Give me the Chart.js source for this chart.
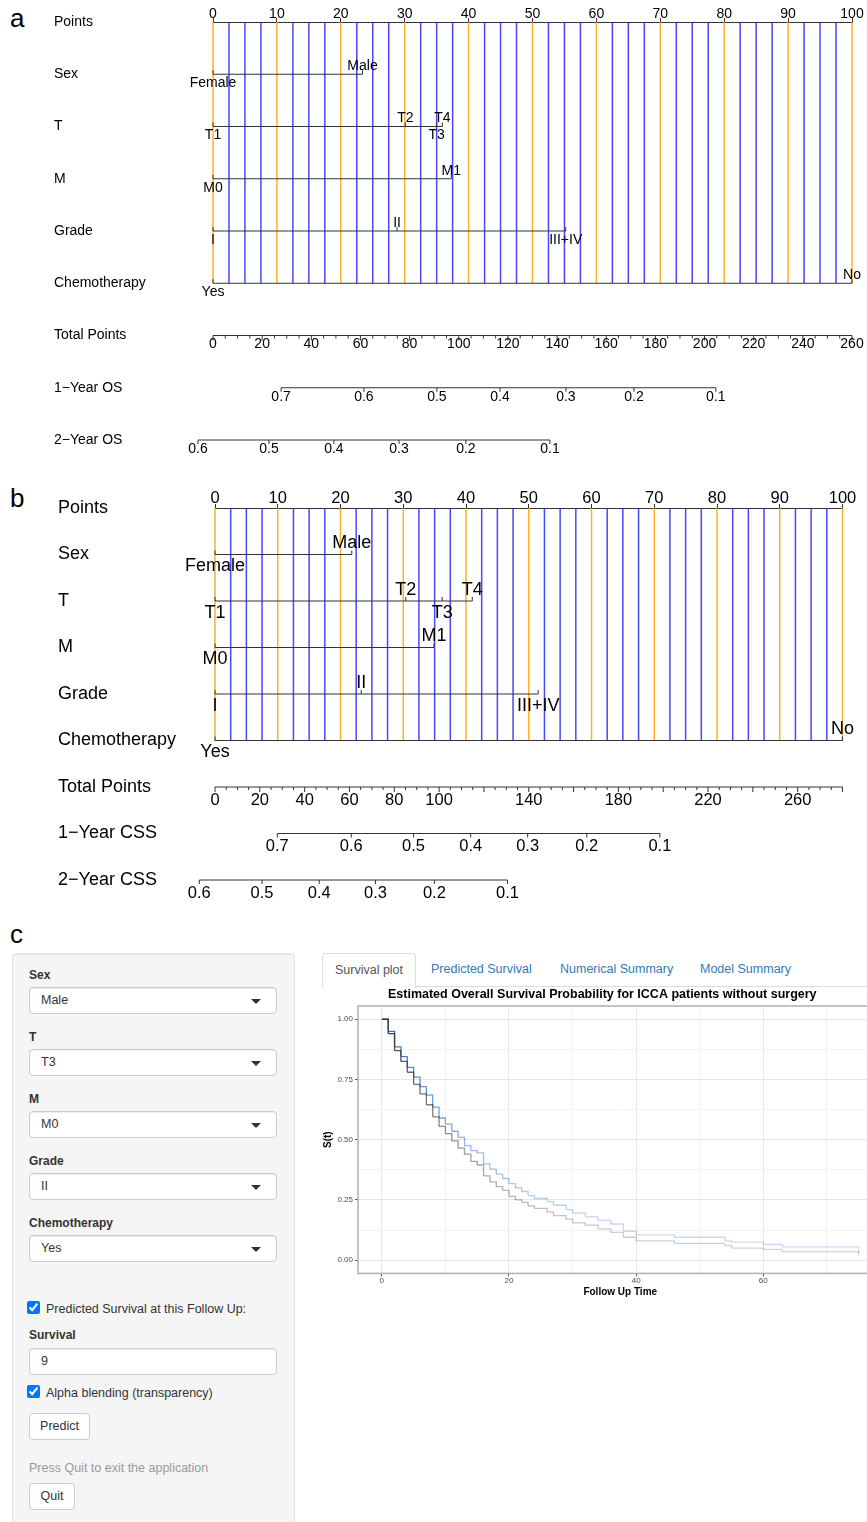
<!DOCTYPE html>
<html>
<head>
<meta charset="utf-8">
<script src="https://cdn.jsdelivr.net/npm/chart.js@4.4.1/dist/chart.umd.min.js"></script>
<style>
  html, body { margin: 0; padding: 0; width: 867px; height: 1522px; overflow: hidden; background: #fff; }
  body { position: relative; font-family: Arial, "Liberation Sans", Helvetica, sans-serif; color: #333; }
  canvas { position: absolute; }
  .tag { position: absolute; font-size: 26px; color: #000; line-height: 26px; }
  .well { position: absolute; left: 12px; top: 953px; width: 281px; height: 600px; background: #f5f5f5;
          border: 1px solid #e3e3e3; border-radius: 4px; box-shadow: inset 0 1px 1px rgba(0,0,0,.05); }
  .lab { position: absolute; left: 29px; font-size: 12px; font-weight: bold; color: #333; line-height: 14px; }
  .sel { position: absolute; left: 29px; width: 246px; height: 25px; background: #fff; border: 1px solid #ccc;
         border-radius: 4px; box-shadow: inset 0 1px 1px rgba(0,0,0,.075); font-size: 12.5px; line-height: 25px;
         padding-left: 11px; box-sizing: content-box; width: 235px; color: #333; }
  .sel.dd::after { content: ""; position: absolute; right: 15px; top: 11px; width: 0; height: 0;
         border-left: 5px solid transparent; border-right: 5px solid transparent; border-top: 5px solid #333; }
  .chk { position: absolute; left: 29px; font-size: 12.5px; color: #333; line-height: 14px; }
  .chk input { position: absolute; left: -2px; top: -1px; margin: 0; width: 13px; height: 13px; }
  .chk span { position: absolute; left: 17px; top: 0; white-space: nowrap; }
  .btn { position: absolute; left: 29px; height: 25px; background: #fff; border: 1px solid #ccc; border-radius: 4px;
         font-size: 12.5px; line-height: 25px; text-align: center; color: #333; }
  .note { position: absolute; left: 29px; top: 1461px; font-size: 12.5px; color: #999; }
  .tabs { position: absolute; left: 322px; top: 953px; width: 545px; height: 33px; border-bottom: 1px solid #ddd; }
  .tab { position: absolute; top: 0; height: 33px; line-height: 33px; font-size: 12.5px; color: #337ab7; white-space: nowrap; }
  .tab.on { left: 0; width: 92px; border: 1px solid #ddd; border-bottom-color: #fff; border-radius: 4px 4px 0 0;
            background: #fff; color: #555; text-align: center; height: 33px; }
</style>
</head>
<body>

<div class="tag" style="left:10px; top:5px;">a</div>
<canvas id="nomoA" width="867" height="462" style="left:0; top:0;"></canvas>

<div class="tag" style="left:10px; top:485px;">b</div>
<canvas id="nomoB" width="867" height="435" style="left:0; top:470px;"></canvas>

<div class="tag" style="left:10px; top:921px;">c</div>

<div class="well"></div>
<div class="lab" style="top:968px;">Sex</div>
<div class="sel dd" style="top:987px;">Male</div>
<div class="lab" style="top:1030px;">T</div>
<div class="sel dd" style="top:1049px;">T3</div>
<div class="lab" style="top:1092px;">M</div>
<div class="sel dd" style="top:1111px;">M0</div>
<div class="lab" style="top:1154px;">Grade</div>
<div class="sel dd" style="top:1173px;">II</div>
<div class="lab" style="top:1216px;">Chemotherapy</div>
<div class="sel dd" style="top:1235px;">Yes</div>
<div class="chk" style="top:1302px;"><input type="checkbox" checked><span>Predicted Survival at this Follow Up:</span></div>
<div class="lab" style="top:1328px;">Survival</div>
<div class="sel" style="top:1348px;">9</div>
<div class="chk" style="top:1386px;"><input type="checkbox" checked><span>Alpha blending (transparency)</span></div>
<div class="btn" style="top:1413px; width:59px;">Predict</div>
<div class="note">Press Quit to exit the application</div>
<div class="btn" style="top:1483px; width:44px;">Quit</div>

<div class="tabs">
  <div class="tab on">Survival plot</div>
  <div class="tab" style="left:109px;">Predicted Survival</div>
  <div class="tab" style="left:238px;">Numerical Summary</div>
  <div class="tab" style="left:378px;">Model Summary</div>
</div>

<canvas id="surv" width="622" height="312" style="left:322px; top:986px;"></canvas>

<script>
Chart.defaults.font.family = '"Liberation Sans", Arial, Helvetica, sans-serif';

// ---- nomogram a (overall survival) ----
const rowNamesA = ['Points', 'Sex', 'T', 'M', 'Grade', 'Chemotherapy', 'Total Points', '1\u2212Year OS', '2\u2212Year OS'];
const sexLabels = ['Female', 'Male'];
const tLabels = ['T1', 'T2', 'T3', 'T4'];
const mLabels = ['M0', 'M1'];
const gradeLabels = ['I', 'II', 'III+IV'];
const chemoLabels = ['Yes', 'No'];

const sexPtsA = [0, 23.4];
const tPtsA = [0, 30.1, 35.0, 35.9];
const mPtsA = [0, 37.3];
const gradePtsA = [0, 28.8, 55.2];
const chemoPtsA = [0, 100];

const totalTicksA = [0, 20, 40, 60, 80, 100, 120, 140, 160, 180, 200, 220, 240, 260];
const os1LabelsA = ['0.7', '0.6', '0.5', '0.4', '0.3', '0.2', '0.1'];
const os1PosA = [27.7, 61.4, 91.1, 116.8, 143.6, 171.3, 204.6];
const os2LabelsA = ['0.6', '0.5', '0.4', '0.3', '0.2', '0.1'];
const os2PosA = [-6.1, 22.8, 49.2, 75.7, 102.9, 137.1];

// ---- nomogram b (cancer specific survival) ----
const rowNamesB = ['Points', 'Sex', 'T', 'M', 'Grade', 'Chemotherapy', 'Total Points', '1\u2212Year CSS', '2\u2212Year CSS'];
const sexPtsB = [0, 21.8];
const tPtsB = [0, 30.4, 36.2, 41.0];
const mPtsB = [0, 34.9];
const gradePtsB = [0, 23.3, 51.5];
const chemoPtsB = [0, 100];

const totalTicksB = [0, 20, 40, 60, 80, 100, 140, 180, 220, 260];
const css1LabelsB = ['0.7', '0.6', '0.5', '0.4', '0.3', '0.2', '0.1'];
const css1PosB = [27.8, 60.8, 88.6, 114.1, 139.5, 165.9, 198.5];
const css2LabelsB = ['0.6', '0.5', '0.4', '0.3', '0.2', '0.1'];
const css2PosB = [-7.0, 21.0, 46.5, 71.6, 97.9, 130.5];

// ---- survival curves (panel c) ----
const survTime = [0, 1, 2, 3, 4, 5, 6, 7, 8, 9, 10, 11, 12, 13, 14, 15, 16, 17, 18, 19, 20,
                  21, 22, 23, 24, 26, 27, 29, 30, 32, 34, 36, 38, 40, 46, 54, 55, 60, 63, 75];
const survBlue = [1.00, 0.95, 0.885, 0.845, 0.80, 0.76, 0.72, 0.685, 0.635, 0.59, 0.565, 0.535, 0.51, 0.475, 0.455, 0.445, 0.40,
                  0.378, 0.357, 0.339, 0.318, 0.30, 0.285, 0.268, 0.256, 0.243, 0.228, 0.21, 0.195, 0.18, 0.165, 0.15, 0.12,
                  0.105, 0.095, 0.08, 0.075, 0.065, 0.055, 0.03];
const survGray = [1.00, 0.94, 0.87, 0.825, 0.78, 0.73, 0.69, 0.645, 0.595, 0.555, 0.525, 0.495, 0.465, 0.44, 0.41, 0.395, 0.35,
                  0.325, 0.305, 0.29, 0.265, 0.25, 0.24, 0.225, 0.215, 0.20, 0.185, 0.17, 0.155, 0.145, 0.13, 0.115, 0.095,
                  0.08, 0.07, 0.06, 0.05, 0.045, 0.035, 0.02];

const ORANGE = 'rgba(255,165,0,0.85)';
const BLUE = 'rgba(40,40,255,0.85)';
const INK = '#333';

function nomogram(id, o) {
  const vOrange = [], vBlue = [];
  for (let v = 0; v <= 100; v += 2.5) {
    const seg = [{x: v, y: 0}, {x: v, y: 5}, {x: v, y: null}];
    if (v % 10 === 0) vOrange.push(...seg); else vBlue.push(...seg);
  }
  const rowLines = [];
  o.factors.forEach((f, i) => {
    rowLines.push({x: Math.min(...f.pts), y: i + 1}, {x: Math.max(...f.pts), y: i + 1}, {x: 0, y: null});
  });
  const tpLines = [
    {x: 0, y: 6}, {x: o.tpMax, y: 6}, {x: 0, y: null},
    {x: o.s1Pos[0], y: 7}, {x: o.s1Pos[o.s1Pos.length - 1], y: 7}, {x: 0, y: null},
    {x: o.s2Pos[0], y: 8}, {x: o.s2Pos[o.s2Pos.length - 1], y: 8}
  ];
  const fs = o.fontSize;
  const font = (s) => s + 'px "Liberation Sans", Arial, sans-serif';

  const textPlugin = {
    id: 'nomoText',
    afterDatasetsDraw(chart) {
      const c = chart.ctx, x = chart.scales.x, tp = chart.scales.tp, y = chart.scales.y;
      c.save();
      c.strokeStyle = INK;
      c.fillStyle = '#000';
      c.lineWidth = 1;
      c.textAlign = 'center';
      c.textBaseline = 'middle';
      // factor rows
      o.factors.forEach((f, r) => {
        const py = y.getPixelForValue(r + 1);
        c.font = font(o.levelSize);
        f.pts.forEach((p, i) => {
          const px = x.getPixelForValue(p);
          c.beginPath(); c.moveTo(px, py); c.lineTo(px, py - o.tick); c.stroke();
          const ly = i % 2 === 0 ? py + o.below : py - o.above;
          c.fillText(f.labels[i], px, ly);
        });
      });
      // total points
      const ty = y.getPixelForValue(6);
      for (let v = 0; v <= o.tpMax; v += 5) {
        const px = tp.getPixelForValue(v);
        c.beginPath(); c.moveTo(px, ty); c.lineTo(px, ty + (v % 20 === 0 ? o.tick + 1 : o.tick - 1)); c.stroke();
      }
      c.font = font(fs);
      o.tpTicks.forEach(v => c.fillText(String(v), tp.getPixelForValue(v), ty + o.numOff));
      // survival probability rows
      [[o.s1Pos, o.s1Labels, 7], [o.s2Pos, o.s2Labels, 8]].forEach(([pos, labs, r]) => {
        const py = y.getPixelForValue(r);
        pos.forEach((p, i) => {
          const px = tp.getPixelForValue(p);
          c.beginPath(); c.moveTo(px, py); c.lineTo(px, py + o.tick); c.stroke();
          c.fillText(labs[i], px, py + o.numOff);
        });
      });
      c.restore();
    }
  };

  return new Chart(document.getElementById(id), {
    type: 'line',
    data: {
      datasets: [
        {data: rowLines, borderColor: INK, borderWidth: 1, order: 1},
        {data: tpLines, xAxisID: 'tp', borderColor: INK, borderWidth: 1, order: 1},
        {data: vOrange, borderColor: ORANGE, borderWidth: 1.5, order: 2},
        {data: vBlue, borderColor: BLUE, borderWidth: 1.5, order: 3}
      ]
    },
    options: {
      responsive: false,
      animation: false,
      spanGaps: false,
      clip: false,
      elements: {point: {radius: 0}, line: {tension: 0, fill: false}},
      layout: {padding: o.padding},
      plugins: {legend: {display: false}, tooltip: {enabled: false}},
      scales: {
        x: {
          type: 'linear', position: 'top', min: 0, max: 100,
          afterFit: (s) => { s.height = o.topH; },
          ticks: {stepSize: 10, color: '#000', font: {size: fs}, padding: o.topPad, maxRotation: 0, autoSkip: false},
          grid: {drawOnChartArea: false, tickLength: 4, tickColor: INK},
          border: {color: INK, width: 1}
        },
        tp: {type: 'linear', axis: 'x', position: 'bottom', min: 0, max: o.tpMax, display: false},
        y: {
          type: 'linear', min: 0, max: 8, reverse: true,
          afterFit: (s) => { s.width = o.axisW; },
          ticks: {stepSize: 1, autoSkip: false, crossAlign: 'far', color: '#000', font: {size: o.levelSize},
                  callback: (v) => o.rowNames[v]},
          grid: {display: false},
          border: {display: false}
        }
      }
    },
    plugins: [textPlugin]
  });
}

nomogram('nomoA', {
  rowNames: rowNamesA,
  factors: [
    {pts: sexPtsA, labels: sexLabels},
    {pts: tPtsA, labels: tLabels},
    {pts: mPtsA, labels: mLabels},
    {pts: gradePtsA, labels: gradeLabels},
    {pts: chemoPtsA, labels: chemoLabels}
  ],
  tpMax: 260, tpTicks: totalTicksA,
  s1Pos: os1PosA, s1Labels: os1LabelsA, s2Pos: os2PosA, s2Labels: os2LabelsA,
  fontSize: 14, levelSize: 14, tick: 4, above: 8, below: 9, numOff: 9,
  padding: {left: 54, right: 15, top: 0, bottom: 22}, topH: 22, topPad: -5, axisW: 159
});

nomogram('nomoB', {
  rowNames: rowNamesB,
  factors: [
    {pts: sexPtsB, labels: sexLabels},
    {pts: tPtsB, labels: tLabels},
    {pts: mPtsB, labels: mLabels},
    {pts: gradePtsB, labels: gradeLabels},
    {pts: chemoPtsB, labels: chemoLabels}
  ],
  tpMax: 280, tpTicks: totalTicksB,
  s1Pos: css1PosB, s1Labels: css1LabelsB, s2Pos: css2PosB, s2Labels: css2LabelsB,
  fontSize: 16.5, levelSize: 18, tick: 4, above: 11, below: 12, numOff: 13,
  padding: {left: 58, right: 24.5, top: 0, bottom: 25}, topH: 38, topPad: -4, axisW: 157
});

// ---- survival plot ----
function fade(rgb) {
  return (ctx) => {
    const t = ctx.p0.parsed.x;
    const a = 0.22 + 0.78 * Math.exp(-t / 12);
    return 'rgba(' + rgb.join(',') + ',' + a.toFixed(3) + ')';
  };
}

const panelBorder = {
  id: 'panelBorder',
  afterDraw(chart) {
    const a = chart.chartArea, c = chart.ctx;
    c.save();
    c.strokeStyle = '#b0b0b0';
    c.lineWidth = 1.5;
    c.strokeRect(a.left, a.top, a.right - a.left, a.bottom - a.top);
    c.restore();
  }
};

const isMajor = (v, step) => Math.abs(v / step - Math.round(v / step)) < 1e-6;

new Chart(document.getElementById('surv'), {
  type: 'line',
  data: {
    datasets: [
      {data: survTime.map((t, i) => ({x: t, y: survGray[i]})), stepped: 'before', borderWidth: 1.3,
       borderColor: '#555', segment: {borderColor: fade([60, 60, 60])}},
      {data: survTime.map((t, i) => ({x: t, y: survBlue[i]})), stepped: 'before', borderWidth: 1.3,
       borderColor: '#2a6cc4', segment: {borderColor: fade([30, 105, 210])}}
    ]
  },
  options: {
    responsive: false,
    animation: false,
    elements: {point: {radius: 0}},
    layout: {padding: {left: 0, right: 61.5, top: 0, bottom: 0}},
    plugins: {
      legend: {display: false},
      tooltip: {enabled: false},
      title: {display: true, text: 'Estimated Overall Survival Probability for ICCA patients without surgery',
              color: '#000', font: {size: 12.5, weight: 'bold'}, padding: {top: 1, bottom: 4}}
    },
    scales: {
      x: {
        type: 'linear', min: -3.75, max: 78.75,
        ticks: {stepSize: 10, includeBounds: false, autoSkip: false, maxRotation: 0, padding: 0,
                color: '#4d4d4d', font: {size: 8},
                callback: (v) => isMajor(v, 20) ? String(v) : ''},
        grid: {color: (c) => c.tick && isMajor(c.tick.value, 20) ? '#e6e6e6' : '#f3f3f3', lineWidth: 1,
               tickLength: 3, tickColor: (c) => c.tick && isMajor(c.tick.value, 20) ? '#555' : 'rgba(0,0,0,0)'},
        border: {display: false},
        title: {display: true, text: 'Follow Up Time', color: '#000', font: {size: 10, weight: 'bold'},
                padding: {top: 0, bottom: 0}}
      },
      y: {
        min: -0.055, max: 1.055,
        afterFit: (s) => { s.width = 36; },
        ticks: {stepSize: 0.125, includeBounds: false, autoSkip: false, padding: 2, color: '#4d4d4d', font: {size: 8},
                callback: (v) => isMajor(v, 0.25) ? v.toFixed(2) : ''},
        grid: {color: (c) => c.tick && isMajor(c.tick.value, 0.25) ? '#e6e6e6' : '#f3f3f3', lineWidth: 1,
               tickLength: 3, tickColor: (c) => c.tick && isMajor(c.tick.value, 0.25) ? '#555' : 'rgba(0,0,0,0)'},
        border: {display: false},
        title: {display: true, text: 'S(t)', color: '#000', font: {size: 10, weight: 'bold'}, padding: {top: 0, bottom: 2}}
      }
    }
  },
  plugins: [panelBorder]
});
</script>
</body>
</html>
